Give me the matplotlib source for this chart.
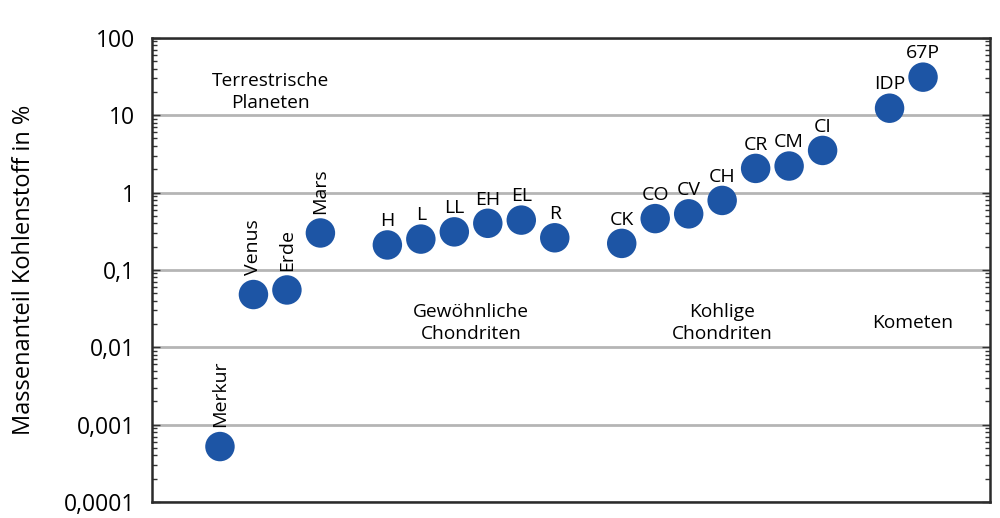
import numpy as np
import matplotlib
matplotlib.use('Agg')
import matplotlib.pyplot as plt
from matplotlib.ticker import FixedLocator, FixedFormatter, LogLocator, NullFormatter

plt.rcParams['font.family'] = ['Open Sans', 'DejaVu Sans']

# Data
names = ['Merkur', 'Venus', 'Erde', 'Mars',
         'H', 'L', 'LL', 'EH', 'EL', 'R',
         'CK', 'CO', 'CV', 'CH', 'CR', 'CM', 'CI',
         'IDP', '67P']
xpos = [0, 1, 2, 3,
        5, 6, 7, 8, 9, 10,
        12, 13, 14, 15, 16, 17, 18,
        20, 21]
carbon = [0.00052, 0.048, 0.055, 0.30,
          0.21, 0.25, 0.31, 0.40, 0.44, 0.26,
          0.22, 0.46, 0.53, 0.79, 2.05, 2.2, 3.5,
          12.3, 31.0]
rotated = ['Merkur', 'Venus', 'Erde', 'Mars']

groups = ['Terrestrische\nPlaneten', 'Gewöhnliche\nChondriten', 'Kohlige\nChondriten', 'Kometen']
group_x = [1.5, 7.5, 15.0, 20.7]
group_y = [20, 0.0205, 0.0205, 0.0205]

yticks = [0.0001, 0.001, 0.01, 0.1, 1, 10, 100]
yticklabels = ['0,0001', '0,001', '0,01', '0,1', '1', '10', '100']

blue = '#1d55a5'

fig = plt.figure(figsize=(10, 5.18), dpi=100)
ax = fig.add_axes([0.152, 0.031, 0.838, 0.896])

ax.set_yscale('log')
ax.set_ylim(0.0001, 100)
ax.set_xlim(-2.03, 23.0)

ax.yaxis.set_major_locator(FixedLocator(yticks))
ax.yaxis.set_major_formatter(FixedFormatter(yticklabels))
ax.yaxis.set_minor_locator(LogLocator(base=10, subs=np.arange(2, 10)))
ax.yaxis.set_minor_formatter(NullFormatter())
ax.grid(True, which='major', axis='y', color='#b5b5b5', linewidth=2.0, zorder=0)
ax.set_axisbelow(True)

ax.tick_params(axis='y', which='both', direction='in', left=True, right=True,
               color='#333333', width=1.0, labelsize=16.5, pad=12)
ax.tick_params(axis='y', which='major', length=6)
ax.tick_params(axis='y', which='minor', length=3.5)
ax.tick_params(axis='x', bottom=False, labelbottom=False)

for s in ax.spines.values():
    s.set_linewidth(1.8)
    s.set_color('#2b2b2b')

ax.scatter(xpos, carbon, s=450, color=blue, edgecolors='none', zorder=3, clip_on=False)

for n, x, y in zip(names, xpos, carbon):
    if n in rotated:
        ax.annotate(n, (x, y), xytext=(0, 14), textcoords='offset points',
                    rotation=90, ha='center', va='bottom', fontsize=14)
    else:
        ax.annotate(n, (x, y), xytext=(0, 13.5), textcoords='offset points',
                    ha='center', va='baseline', fontsize=14)

for g, x, y in zip(groups, group_x, group_y):
    ax.text(x, y, g, ha='center', va='center', fontsize=13.8, linespacing=1.25)

ax.set_ylabel('Massenanteil Kohlenstoff in %', fontsize=17, labelpad=20)

fig.savefig('out.png', dpi=100)
